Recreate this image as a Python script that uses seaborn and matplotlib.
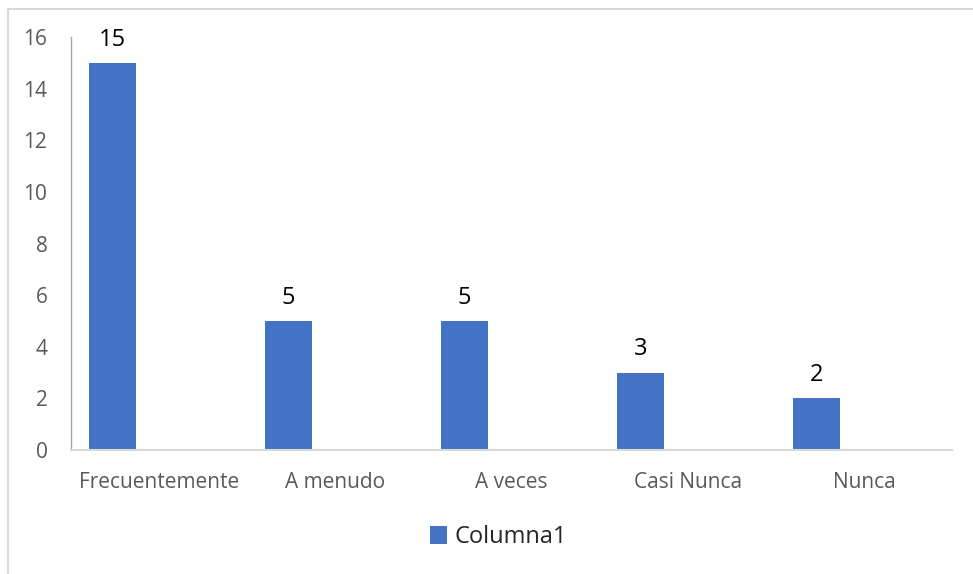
import numpy as np
import pandas as pd
import matplotlib
matplotlib.use("Agg")
import matplotlib.pyplot as plt
from matplotlib.patches import Rectangle
import seaborn as sns

categories = ["Frecuentemente", "A menudo", "A veces", "Casi Nunca", "Nunca"]
values = [15, 5, 5, 3, 2]
series_name = "Columna1"
y_ticks = [0, 2, 4, 6, 8, 10, 12, 14, 16]

BAR_COLOR = "#4472C4"
TICK_COLOR = "#595959"

sns.set_theme(style="white")
plt.rcParams["font.family"] = ["Open Sans", "DejaVu Sans"]

# Each category slot holds three series positions; only the first one has data,
# so the bar sits in the left third of its slot.
slot_width = 0.8
bar_width = slot_width / 3
idx = np.arange(len(categories))
df = pd.DataFrame({
    "pos": idx - bar_width,
    "value": values,
    "serie": series_name,
})

fig = plt.figure(figsize=(9.73, 5.74), dpi=100)
ax = fig.add_axes([71 / 973, 1 - 450 / 574, (952 - 71) / 973, (450 - 37) / 574])

sns.barplot(data=df, x="pos", y="value", hue="serie", native_scale=True,
            width=bar_width, palette=[BAR_COLOR], saturation=1,
            edgecolor="none", linewidth=0, ax=ax, legend=False)

ax.set_xlim(-0.5, len(categories) - 0.5)
ax.set_ylim(0, 16)
ax.set_xticks(idx)
ax.set_xticklabels(categories)
ax.set_yticks(y_ticks)
ax.set_xlabel("")
ax.set_ylabel("")
ax.tick_params(axis="both", length=0, labelsize=15, colors=TICK_COLOR)
ax.tick_params(axis="x", pad=16)
ax.tick_params(axis="y", pad=17)

for side in ["top", "right"]:
    ax.spines[side].set_visible(False)
ax.spines["left"].set_color("#a6a6a6")
ax.spines["left"].set_linewidth(1.0)
ax.spines["bottom"].set_color("#d9d9d9")
ax.spines["bottom"].set_linewidth(1.5)

for container in ax.containers:
    ax.bar_label(container, labels=[str(v) for v in values], padding=8,
                 fontsize=17, color="black")

handle = Rectangle((0, 0), 1, 1, facecolor=BAR_COLOR, edgecolor="none")
fig.legend([handle], [series_name], loc="center", bbox_to_anchor=(0.512, 0.064),
           frameon=False, fontsize=17, handlelength=0.75, handleheight=0.75,
           handletextpad=0.3)

# Light chart-area border
fig.patches.append(Rectangle((7.5 / 973, -0.1), 1.1, 1.1 - 8.5 / 574,
                             transform=fig.transFigure, fill=False,
                             edgecolor="#d9d9d9", linewidth=1.5, zorder=0))

fig.savefig("out.png", dpi=100, facecolor="white")
